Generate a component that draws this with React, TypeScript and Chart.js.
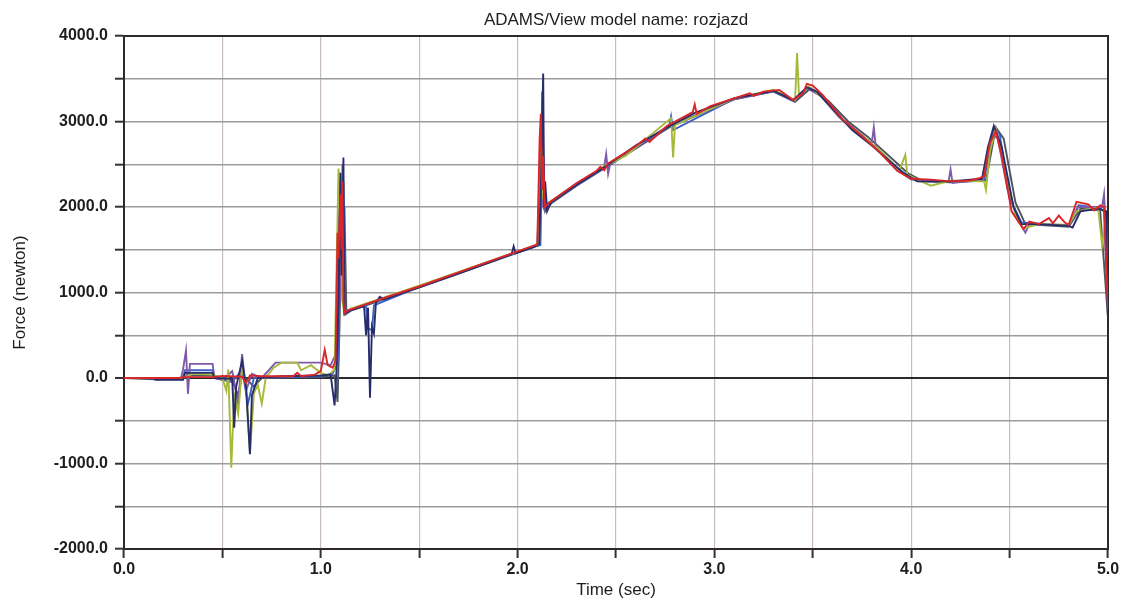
import React, { useEffect, useRef } from "react";
import Chart from "chart.js/auto";

const titleText = "ADAMS/View model name: rozjazd";
const xLabel = "Time (sec)";
const yLabel = "Force (newton)";
const xTicks = [0, 0.5, 1, 1.5, 2, 2.5, 3, 3.5, 4, 4.5, 5];
const yTicks = [-2000, -1500, -1000, -500, 0, 500, 1000, 1500, 2000, 2500, 3000, 3500, 4000];

const redRun: number[][] = [
  [0, 0], [0.28, 0], [0.3, 10], [0.45, 10], [0.5, 25], [0.6, 15], [0.62, -60], [0.64, 30], [0.7, 20], [0.86, 20],
  [0.88, 60], [0.9, 20], [0.97, 40], [1.0, 80], [1.02, 330], [1.035, 150], [1.06, 120], [1.075, 200], [1.085, 1700],
  [1.09, 1400], [1.1, 2150], [1.105, 1500], [1.11, 2300], [1.115, 900], [1.12, 760], [1.14, 790], [1.3, 920],
  [1.5, 1070], [1.7, 1235], [1.9, 1400], [2.0, 1480], [2.08, 1545], [2.1, 1560], [2.112, 2800], [2.118, 3090],
  [2.124, 2200], [2.13, 2600], [2.138, 2000], [2.16, 2050], [2.3, 2280], [2.4, 2420], [2.42, 2470], [2.44, 2430],
  [2.46, 2510], [2.6, 2710], [2.65, 2800], [2.67, 2760], [2.76, 2950], [2.89, 3110], [2.9, 3200], [2.91, 3090],
  [2.98, 3180], [3.1, 3270], [3.18, 3330], [3.2, 3300], [3.25, 3350], [3.33, 3370], [3.4, 3250], [3.45, 3330],
  [3.47, 3440], [3.5, 3420], [3.55, 3310], [3.65, 3030], [3.75, 2830], [3.84, 2640], [3.93, 2420],
  [4.0, 2330], [4.1, 2320], [4.2, 2300], [4.3, 2310], [4.35, 2340], [4.37, 2360], [4.4, 2750], [4.43, 2880],
  [4.46, 2600], [4.51, 1950], [4.55, 1810], [4.57, 1740], [4.6, 1830], [4.65, 1800], [4.7, 1870], [4.72, 1810],
  [4.75, 1900], [4.78, 1820], [4.8, 1790], [4.84, 2060], [4.9, 2030], [4.93, 1960], [4.96, 2020], [4.98, 2000],
  [5.0, 800],
];

const navyRun: number[][] = [
  [0, 0], [0.15, 0], [0.16, -20], [0.3, -20], [0.31, 60], [0.45, 60], [0.46, 0], [0.55, -10], [0.56, -580],
  [0.57, -100], [0.6, 200], [0.62, -100], [0.64, -890], [0.65, -200], [0.68, 0], [0.8, 20], [1.0, 30], [1.05, 40],
  [1.07, -320], [1.08, 100], [1.09, 900], [1.1, 2400], [1.105, 1200], [1.115, 2580], [1.12, 750], [1.15, 790],
  [1.22, 840], [1.23, 500], [1.24, 820], [1.25, -230], [1.26, 600], [1.27, 520], [1.28, 880], [1.3, 950],
  [1.32, 920], [1.5, 1060], [1.7, 1220], [1.9, 1390], [1.97, 1450], [1.98, 1540], [1.99, 1460], [2.08, 1530],
  [2.11, 1570], [2.12, 2400], [2.13, 3560], [2.135, 2000], [2.14, 2300], [2.15, 1950], [2.17, 2060], [2.3, 2260],
  [2.45, 2480], [2.6, 2720], [2.76, 2930], [2.9, 3100], [3.1, 3270], [3.3, 3360], [3.4, 3250], [3.47, 3400],
  [3.52, 3350], [3.6, 3150], [3.7, 2900], [3.8, 2720], [3.88, 2560], [3.96, 2400], [4.03, 2300], [4.2, 2300],
  [4.36, 2330], [4.39, 2700], [4.42, 2950], [4.46, 2700], [4.52, 2000], [4.56, 1800], [4.62, 1800], [4.8, 1780],
  [4.82, 1760], [4.86, 1950], [4.95, 1980], [4.99, 1950], [5.0, 700],
];

const greenRun: number[][] = [
  [0, 0], [0.3, 0], [0.35, 50], [0.45, 40], [0.5, 0], [0.52, -150], [0.53, 100], [0.545, -1050], [0.56, -200],
  [0.58, -420], [0.6, 120], [0.62, -80], [0.64, -880], [0.66, -180], [0.68, -80], [0.7, -300], [0.72, 0],
  [0.76, 120], [0.8, 180], [0.88, 180], [0.9, 90], [0.95, 150], [1.0, 60], [1.04, 30], [1.07, 100], [1.09, 2450],
  [1.1, 1800], [1.11, 900], [1.12, 740], [1.15, 810], [1.5, 1080], [1.9, 1400], [2.08, 1545], [2.11, 1580],
  [2.12, 3000], [2.13, 2100], [2.15, 2040], [2.3, 2270], [2.45, 2490], [2.55, 2600], [2.78, 3040], [2.79, 2580],
  [2.8, 2960], [3.1, 3270], [3.3, 3370], [3.41, 3250], [3.42, 3800], [3.43, 3300], [3.48, 3410], [3.56, 3260],
  [3.66, 3000], [3.76, 2820], [3.86, 2620], [3.94, 2430], [3.97, 2610], [3.98, 2380], [4.05, 2300], [4.1, 2250],
  [4.2, 2310], [4.37, 2300], [4.38, 2200], [4.4, 2650], [4.43, 2920], [4.47, 2500], [4.53, 1900], [4.57, 1750],
  [4.65, 1800], [4.8, 1790], [4.84, 1950], [4.95, 1990], [4.97, 1550], [4.99, 1900], [5.0, 900],
];

const purpleRun: number[][] = [
  [0, 0], [0.29, 0], [0.3, 100], [0.315, 320], [0.325, -185], [0.335, 165], [0.45, 165], [0.46, 0], [0.5, -20],
  [0.55, 80], [0.58, -300], [0.6, 280], [0.62, -150], [0.65, 50], [0.7, 0], [0.77, 180], [1.0, 180], [1.05, 150],
  [1.08, 300], [1.095, 2200], [1.1, 900], [1.11, 2500], [1.12, 780], [1.16, 810], [1.5, 1070], [1.9, 1395],
  [2.08, 1535], [2.1, 1560], [2.12, 2700], [2.13, 2000], [2.15, 2030], [2.3, 2265], [2.44, 2470], [2.45, 2620],
  [2.46, 2390], [2.47, 2500], [2.76, 2940], [3.1, 3260], [3.3, 3360], [3.4, 3240], [3.47, 3390], [3.54, 3300],
  [3.63, 3060], [3.73, 2860], [3.8, 2750], [3.81, 2930], [3.82, 2700], [3.92, 2450], [4.0, 2320], [4.19, 2300],
  [4.2, 2440], [4.21, 2280], [4.36, 2320], [4.41, 2850], [4.44, 2800], [4.49, 2200], [4.55, 1830], [4.58, 1700],
  [4.6, 1800], [4.8, 1790], [4.85, 2000], [4.97, 2000], [4.98, 2150], [4.99, 1700], [5.0, 850],
];

const blueRun: number[][] = [
  [0, 0], [0.3, 0], [0.31, 90], [0.45, 90], [0.46, 0], [0.55, -50], [0.6, 100], [0.63, -300], [0.66, 0],
  [0.8, 10], [1.0, 20], [1.06, 50], [1.09, 200], [1.1, 2100], [1.11, 1100], [1.115, 2300], [1.125, 740],
  [1.16, 800], [1.23, 850], [1.24, 580], [1.26, 560], [1.27, 850], [1.5, 1065], [1.9, 1390], [2.08, 1530],
  [2.115, 1560], [2.125, 3350], [2.135, 1980], [2.16, 2040], [2.3, 2255], [2.45, 2475], [2.77, 2940],
  [2.78, 3060], [2.79, 2900], [3.1, 3265], [3.3, 3355], [3.4, 3245], [3.48, 3395], [3.56, 3270], [3.65, 3020],
  [3.75, 2840], [3.86, 2600], [3.95, 2410], [4.04, 2300], [4.2, 2300], [4.37, 2310], [4.42, 2920], [4.45, 2850],
  [4.5, 2100], [4.56, 1820], [4.8, 1780], [4.85, 2020], [4.96, 1990], [4.98, 1950], [5.0, 750],
];

const grayRun: number[][] = [
  [0, 0], [0.15, -15], [0.3, -15], [0.32, 30], [0.45, 30], [0.5, 0], [0.55, -30], [0.58, -200], [0.6, 40],
  [0.66, -100], [0.7, 0], [1.0, 10], [1.07, 30], [1.085, -280], [1.095, 600], [1.105, 1900], [1.11, 1000],
  [1.12, 2000], [1.13, 760], [1.16, 795], [1.5, 1060], [1.9, 1385], [2.08, 1530], [2.115, 1555], [2.125, 2900],
  [2.14, 1950], [2.17, 2040], [2.3, 2250], [2.46, 2480], [2.77, 2930], [3.1, 3260], [3.3, 3350], [3.41, 3230],
  [3.49, 3390], [3.58, 3240], [3.68, 3000], [3.78, 2820], [3.9, 2570], [3.98, 2400], [4.06, 2300], [4.2, 2290],
  [4.38, 2310], [4.43, 2930], [4.47, 2800], [4.53, 2050], [4.58, 1800], [4.8, 1770], [4.86, 1980], [4.96, 1960],
  [5.0, 700],
];

const seriesList = [
  { name: "red", color: "#d8262a", pts: redRun },
  { name: "navy", color: "#272c6a", pts: navyRun },
  { name: "green", color: "#a7b83a", pts: greenRun },
  { name: "purple", color: "#7f5aa8", pts: purpleRun },
  { name: "blue", color: "#3f5fc4", pts: blueRun },
  { name: "gray", color: "#4a5560", pts: grayRun },
];

const FONT = "'Liberation Sans', Arial, sans-serif";

export default function App() {
  const ref = useRef<HTMLCanvasElement | null>(null);

  useEffect(() => {
    document.body.style.margin = "0";
    const canvas = ref.current;
    if (!canvas) return;

    const framePlugin = {
      id: "frame",
      beforeDraw(chart: any) {
        const c = chart.ctx;
        c.save();
        c.fillStyle = "#ffffff";
        c.fillRect(0, 0, chart.width, chart.height);
        c.restore();
      },
      beforeDatasetsDraw(chart: any) {
        const { left, right, top, bottom } = chart.chartArea;
        const c = chart.ctx;
        c.save();
        c.strokeStyle = "#2e2a2a";
        c.lineWidth = 2;
        c.strokeRect(left, top, right - left, bottom - top);
        c.restore();
      },
      afterDraw(chart: any) {
        const { left, right } = chart.chartArea;
        const c = chart.ctx;
        c.save();
        c.font = `17px ${FONT}`;
        c.fillStyle = "#1e1e1e";
        c.textAlign = "center";
        c.textBaseline = "middle";
        c.fillText(titleText, (left + right) / 2, 20);
        c.restore();
      },
    };

    const chart = new Chart(canvas, {
      type: "line",
      data: {
        datasets: seriesList.map((s) => ({
          label: s.name,
          data: s.pts.map(([x, y]) => ({ x, y })),
          borderColor: s.color,
          backgroundColor: s.color,
          borderWidth: 1.9,
          pointRadius: 0,
          tension: 0,
          fill: false,
        })),
      },
      options: {
        animation: false,
        responsive: false,
        devicePixelRatio: 1,
        layout: { padding: { top: 36, right: 18, bottom: 0, left: 0 } },
        plugins: { legend: { display: false }, tooltip: { enabled: false }, title: { display: false } },
        scales: {
          x: {
            type: "linear",
            min: 0,
            max: 5,
            afterBuildTicks: (scale: any) => {
              scale.ticks = xTicks.map((v) => ({ value: v }));
            },
            afterFit: (scale: any) => {
              scale.height = 57;
            },
            ticks: {
              autoSkip: false,
              maxRotation: 0,
              padding: 2,
              color: "#1e1e1e",
              font: { size: 16, weight: "bold", family: FONT },
              callback: (v: any) => (Number.isInteger(Number(v)) ? Number(v).toFixed(1) : ""),
            },
            grid: {
              color: "#c9bcbf",
              lineWidth: 1.2,
              tickLength: 9,
              tickColor: "#333",
              tickWidth: 2,
            },
            border: { color: "#2e2a2a", width: 2 },
            title: {
              display: true,
              text: xLabel,
              color: "#1e1e1e",
              font: { size: 17, family: FONT },
              padding: { top: 0, bottom: 5 },
            },
          },
          y: {
            type: "linear",
            min: -2000,
            max: 4000,
            afterBuildTicks: (scale: any) => {
              scale.ticks = yTicks.map((v) => ({ value: v }));
            },
            afterFit: (scale: any) => {
              scale.width = 124;
            },
            ticks: {
              autoSkip: false,
              padding: 7,
              color: "#1e1e1e",
              font: { size: 16, weight: "bold", family: FONT },
              callback: (v: any) => (Number(v) % 1000 === 0 ? Number(v).toFixed(1) : ""),
            },
            grid: {
              color: (ctx: any) => (ctx.tick && ctx.tick.value === 0 ? "#2a2a2a" : "#9c9c9c"),
              lineWidth: (ctx: any) => (ctx.tick && ctx.tick.value === 0 ? 2 : 1.4),
              tickLength: 9,
              tickColor: "#333",
              tickWidth: 2,
            },
            border: { color: "#2e2a2a", width: 2 },
            title: {
              display: true,
              text: yLabel,
              color: "#1e1e1e",
              font: { size: 17, family: FONT },
              padding: { top: 10, bottom: 0 },
            },
          },
        },
      },
      plugins: [framePlugin],
    });

    return () => chart.destroy();
  }, []);

  return (
    <div style={{ width: 1126, height: 606, background: "#fff" }}>
      <canvas ref={ref} width={1126} height={606} style={{ display: "block" }} />
    </div>
  );
}
